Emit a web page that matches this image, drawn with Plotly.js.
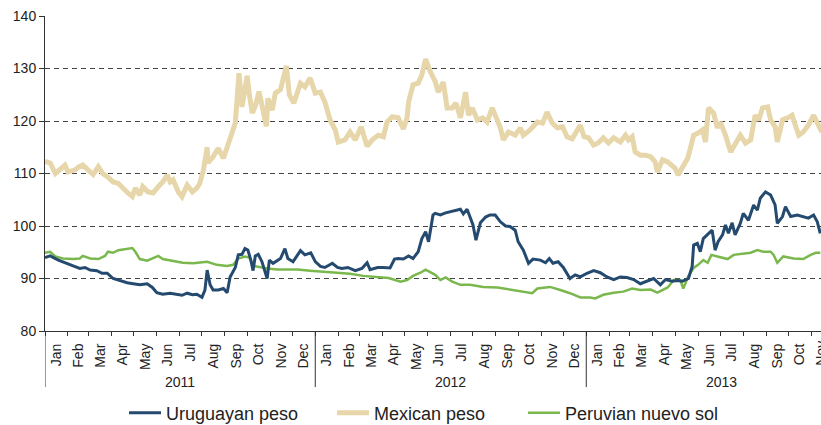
<!DOCTYPE html>
<html>
<head>
<meta charset="utf-8">
<script src="https://cdn.plot.ly/plotly-3.0.1.min.js"></script>
<style>
  html, body { margin: 0; padding: 0; background: #fff; }
  #chart { width: 821px; height: 425px; }
</style>
</head>
<body>
<div id="chart"></div>
<script>
// Index values (base = 100), x given as days since 2011-01-01
const uyDay = [0,7,18,30,38,47,54,61,70,77,84,92,101,111,119,128,138,145,151,159,169,178,185,192,199,205,212,216,219,223,227,234,241,246,250,257,261,266,270,274,278,281,284,288,293,300,303,308,315,318,324,328,335,345,351,359,365,372,378,388,395,401,409,419,428,435,439,449,457,466,472,477,484,491,497,504,509,514,518,522,524,527,534,541,547,554,561,565,570,574,578,582,588,595,601,608,615,622,628,635,639,646,653,659,669,676,681,686,693,700,709,716,723,732,741,750,759,768,777,786,795,804,814,822,831,838,847,854,861,869,874,876,881,885,889,896,901,905,909,915,919,923,928,932,939,943,950,957,962,966,973,980,986,989,996,1000,1007,1016,1024,1031,1038,1043,1047];
const uyVal = [94.0,94.3,93.5,92.9,92.4,91.9,92.1,91.6,91.5,91.0,91.0,90.0,89.6,89.2,89.0,88.8,89.0,88.3,87.3,87.0,87.2,86.9,86.8,87.2,86.9,87.0,86.4,87.8,91.6,88.8,87.8,87.8,88.1,87.3,90.3,92.1,94.5,94.6,95.7,95.4,93.5,91.5,94.3,94.6,93.2,90.0,93.5,92.9,93.5,93.8,95.7,93.8,93.2,95.3,94.5,94.9,93.2,92.3,92.1,92.9,92.1,91.9,92.1,91.5,91.9,93.0,91.7,92.1,92.1,92.0,93.7,93.8,93.7,94.3,93.8,95.1,97.6,98.9,97.0,100.5,102.1,102.4,102.1,102.5,102.7,103.0,103.2,102.3,103.2,101.7,100.2,97.3,100.6,101.7,102.1,102.1,100.8,100.0,99.9,99.2,97.0,95.4,92.9,93.7,93.5,93.0,93.8,92.9,93.2,92.1,90.0,90.7,90.3,91.0,91.5,91.1,90.3,89.8,90.3,90.2,89.8,89.0,89.5,90.0,88.8,89.8,89.5,89.6,89.5,90.0,92.3,96.4,96.7,95.1,97.6,98.6,99.2,95.4,97.0,98.3,100.2,98.6,100.6,98.3,100.5,102.4,101.1,104.0,103.0,105.3,106.5,105.9,104.0,100.5,101.8,103.7,101.8,102.1,101.8,101.5,102.1,100.8,98.6];

const mxDay = [0,7,14,20,27,31,41,45,51,58,65,72,78,85,92,99,105,112,118,122,128,132,139,146,153,159,165,169,173,180,185,192,199,205,209,214,219,220,227,234,241,246,253,257,259,262,266,268,273,276,280,284,289,293,299,301,307,311,318,326,330,336,345,351,358,365,372,378,385,392,396,405,412,419,427,435,442,450,457,462,469,477,484,489,491,497,504,509,514,520,527,531,538,543,550,555,561,568,572,577,584,591,597,604,611,615,619,626,635,642,646,655,665,672,678,685,692,699,705,712,719,723,728,734,741,747,754,761,768,777,784,788,793,797,804,811,818,824,827,834,841,847,851,855,861,868,872,876,882,888,892,896,903,908,912,919,926,932,939,946,953,959,964,969,976,980,986,989,996,1003,1009,1014,1018,1024,1031,1038,1043,1049];
const mxVal = [112.3,112.0,110.0,110.7,111.6,110.3,110.7,111.2,111.6,110.7,109.8,111.3,110.0,109.3,108.4,108.1,107.2,106.3,105.6,107.2,105.9,107.5,106.5,106.3,107.5,108.4,109.7,108.4,108.8,106.5,105.6,107.8,106.5,107.2,108.1,110.7,115.0,112.0,113.2,114.8,112.9,115.0,118.6,119.6,123.4,129.1,122.7,124.6,128.6,125.0,121.5,122.8,125.6,123.0,119.0,124.3,122.1,125.3,126.0,130.5,125.0,123.4,127.2,126.5,128.2,125.3,125.5,123.6,120.2,118.3,116.0,116.4,117.9,116.4,118.9,115.2,116.4,117.3,117.0,119.8,120.8,120.6,118.5,120.6,123.6,126.9,127.2,128.8,131.8,129.5,127.5,125.5,127.4,122.5,122.5,123.4,120.6,125.5,121.1,122.5,120.2,120.6,119.8,122.5,119.8,118.7,116.4,117.9,117.3,118.7,117.3,118.3,119.8,119.6,121.7,119.6,118.7,118.9,117.0,116.6,118.3,119.2,117.0,116.8,115.4,115.8,116.8,115.8,116.8,116.0,117.3,116.4,117.0,114.1,113.5,113.5,113.2,112.2,110.3,112.6,112.2,111.6,111.0,109.7,111.2,112.9,115.0,117.3,117.7,118.3,116.0,122.5,121.5,118.7,119.8,117.3,114.1,115.8,117.3,115.8,116.4,121.1,120.2,122.5,122.7,120.2,118.9,116.0,120.2,120.6,121.1,118.9,117.3,117.9,119.2,121.1,119.8,117.9];

const peDay = [0,7,14,24,38,47,51,61,72,81,85,92,99,108,118,122,128,138,146,153,159,173,186,200,219,232,246,254,261,270,276,281,291,300,314,322,341,358,376,395,412,430,449,464,480,489,497,507,514,520,527,534,541,550,561,574,592,611,628,646,658,665,673,682,696,709,723,736,743,754,768,781,793,804,818,827,841,849,858,862,869,876,882,889,895,900,908,922,930,943,953,962,970,980,984,989,997,1011,1024,1034,1041,1047];
const peVal = [94.9,95.1,94.2,93.8,93.7,93.8,94.3,93.8,93.7,94.3,95.1,94.9,95.4,95.6,95.8,95.1,93.7,93.4,93.8,94.3,93.7,93.4,93.0,92.9,93.2,92.6,92.4,92.6,93.8,94.2,94.0,92.4,92.1,91.9,91.7,91.7,91.7,91.5,91.3,91.1,90.9,90.5,90.3,90.1,89.4,89.7,90.5,91.1,91.7,91.3,90.7,89.7,90.2,89.4,88.8,88.8,88.4,88.3,87.9,87.5,87.2,88.1,88.3,88.4,87.8,87.2,86.4,86.4,86.2,86.9,87.3,87.5,88.1,87.8,87.9,87.3,88.3,89.7,89.7,88.1,90.5,92.0,92.6,93.5,93.0,94.5,94.2,93.7,94.5,94.7,94.9,95.4,95.1,95.1,94.5,93.0,94.2,93.8,93.7,94.5,94.9,94.9];

const seriesNames = ['Uruguayan peso', 'Mexican peso', 'Peruvian nuevo sol'];
const yearLabels = ['2011', '2012', '2013'];
const yTicks = [80, 90, 100, 110, 120, 130, 140];

const START = Date.UTC(2011, 0, 1);
function toDate(d) {
  return new Date(START + d * 86400000).toISOString().slice(0, 10);
}

const FONT = 'Liberation Sans, Arial, sans-serif';

const traces = [
  { x: mxDay.map(toDate), y: mxVal, name: seriesNames[1], type: 'scatter', mode: 'lines',
    line: { color: '#e6d6a9', width: 5 }, legend: 'legend2' },
  { x: peDay.map(toDate), y: peVal, name: seriesNames[2], type: 'scatter', mode: 'lines',
    line: { color: '#7ab84d', width: 2.5 }, legend: 'legend3' },
  { x: uyDay.map(toDate), y: uyVal, name: seriesNames[0], type: 'scatter', mode: 'lines',
    line: { color: '#244a70', width: 3 }, legend: 'legend' }
];

const legBase = {
  xref: 'container', yref: 'container', xanchor: 'left', yanchor: 'middle',
  orientation: 'h', y: 12 / 425, bgcolor: 'rgba(0,0,0,0)', borderwidth: 0,
  font: { family: FONT, size: 18, color: '#222' }, itemwidth: 32
};

const layout = {
  width: 821, height: 425,
  margin: { l: 45, r: 0, t: 16, b: 94 },
  paper_bgcolor: '#fff', plot_bgcolor: '#fff',
  showlegend: true,
  legend: Object.assign({}, legBase, { x: 124 / 821 }),
  legend2: Object.assign({}, legBase, { x: 332 / 821 }),
  legend3: Object.assign({}, legBase, { x: 523 / 821 }),
  xaxis: {
    type: 'date', range: ['2011-01-01', '2013-11-14'],
    tickmode: 'linear', tick0: '2011-01-01', dtick: 'M1',
    tickformat: '%b', ticklabelmode: 'period', tickangle: -90,
    ticks: 'outside', ticklen: 4, tickcolor: '#333', tickwidth: 1,
    showline: true, linecolor: '#333', linewidth: 1,
    showgrid: false, zeroline: false, ticklabelstandoff: 2,
    tickfont: { family: FONT, size: 14, color: '#222' }
  },
  yaxis: {
    range: [80, 140], tickmode: 'array', tickvals: yTicks,
    ticks: 'outside', ticklen: 5, tickcolor: '#333',
    showline: true, linecolor: '#333', linewidth: 1,
    showgrid: true, gridcolor: '#444', gridwidth: 1, griddash: '5px,4px',
    zeroline: false,
    tickfont: { family: FONT, size: 14, color: '#222' }
  },
  shapes: ['2011-01-01', '2012-01-01', '2013-01-01'].map(d => ({
    type: 'line', xref: 'x', yref: 'paper', x0: d, x1: d, y0: 0, y1: -0.178,
    line: { color: '#333', width: 1 }
  })),
  annotations: [
    ...['2011-07-02', '2012-07-02', '2013-07-02'].map((d, i) => ({
      x: d, xref: 'x', y: -0.161, yref: 'paper', text: yearLabels[i],
      showarrow: false, xanchor: 'center', yanchor: 'middle',
      font: { family: FONT, size: 14, color: '#222' }
    })),
    { x: '2013-11-13', xref: 'x', y: 0, yref: 'paper', yshift: -8,
      text: 'Nov', textangle: -90, showarrow: false,
      xanchor: 'center', yanchor: 'top',
      font: { family: FONT, size: 14, color: '#222' } }
  ]
};

Plotly.newPlot('chart', traces, layout, { displayModeBar: false, staticPlot: true });
</script>
</body>
</html>
